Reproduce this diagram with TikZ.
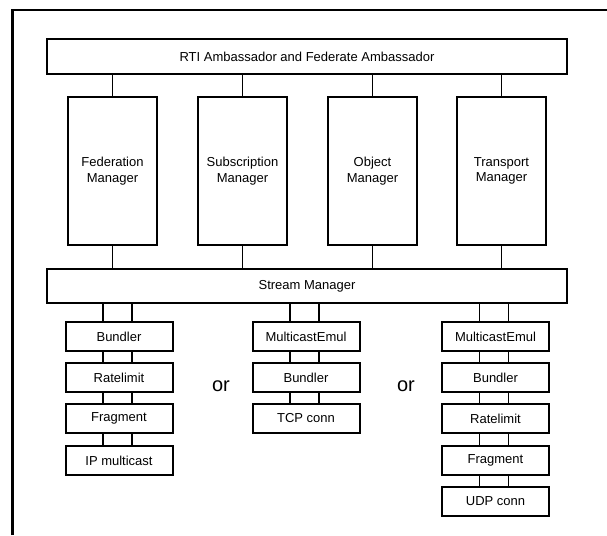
\documentclass[tikz,border=0pt]{standalone}
\usepackage{fontspec}
\setmainfont{Liberation Sans}
\begin{document}
\begin{tikzpicture}[x=1pt,y=-1pt,
  box/.style={draw,line width=2pt,fill=white,inner sep=0pt,align=center,
    font=\fontsize{13}{15.5}\selectfont},
  wide/.style={box,minimum width=520pt,minimum height=34pt},
  mgr/.style={box,minimum width=89pt,minimum height=148pt},
  layer/.style={box,minimum width=107pt,minimum height=29pt},
  link/.style={line width=1.8pt},
  alt/.style={font=\fontsize{20}{24}\selectfont}]
\useasboundingbox (0,0) rectangle (607,535);
% open frame: top and left edges only
\draw[line width=2.2pt] (12.5,535) -- (12.5,10) -- (607,10);

% top and bottom bars
\node[wide] (rti) at (307,56.5) {RTI Ambassador and Federate Ambassador};
\node[wide] (sm)  at (307,286)  {Stream Manager};

% managers
\node[mgr] (fed) at (112.5,171) {Federation\\Manager};
\node[mgr] (sub) at (242.5,171) {Subscription\\Manager};
\node[mgr] (obj) at (372.5,171) {Object\\Manager};
\node[mgr] (tra) at (501.5,171) {Transport\\Manager};

\foreach \m in {fed,sub,obj,tra}{
  \draw[link] (\m.north) -- (\m.north |- rti.south);
  \draw[link] (\m.south) -- (\m.south |- sm.north);
}

% protocol stacks
\node[layer] (a1) at (119,336.5) {Bundler};
\node[layer] (a2) at (119,377.5) {Ratelimit};
\node[layer] (a3) at (119,418.5) {Fragment};
\node[layer] (a4) at (119,460.5) {IP multicast};

\node[layer] (b1) at (306,336.5) {MulticastEmul};
\node[layer] (b2) at (306,377.5) {Bundler};
\node[layer] (b3) at (306,418.5) {TCP conn};

\node[layer] (c1) at (495.5,336.5) {MulticastEmul};
\node[layer] (c2) at (495.5,377.5) {Bundler};
\node[layer] (c3) at (495.5,418.5) {Ratelimit};
\node[layer] (c4) at (495.5,460.5) {Fragment};
\node[layer] (c5) at (495.5,501.5) {UDP conn};

% double links between layers
\foreach \u/\l in {sm/a1,a1/a2,a2/a3,a3/a4,sm/b1,b1/b2,b2/b3,sm/c1,c1/c2,c2/c3,c3/c4,c4/c5}{
  \draw[link] ([xshift=-16pt]\l.north) -- ([xshift=-16pt]\l.north |- \u.south);
  \draw[link] ([xshift=13pt]\l.north) -- ([xshift=13pt]\l.north |- \u.south);
}

\node[alt] (or1) at (221,386) {or};
\node[alt] (or2) at (406,386) {or};
\end{tikzpicture}
\end{document}
